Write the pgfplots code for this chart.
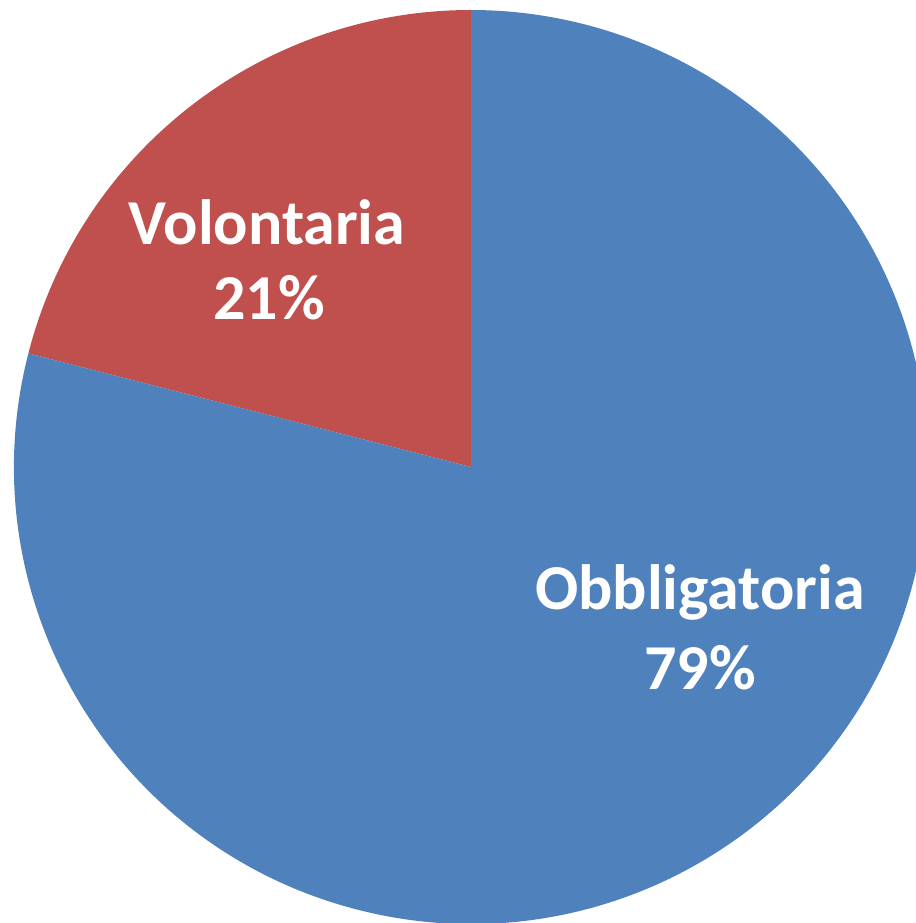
\documentclass[border=0pt]{standalone}
\usepackage{pgfplots}
\usepackage{pgfplotstable}
\usepackage{fontspec}
\setmainfont{Carlito}
\pgfplotsset{compat=1.18}

\definecolor{pieblue}{HTML}{4F81BD}
\definecolor{piered}{HTML}{C0504D}

\pgfplotstableread{
label value
Obbligatoria 79
Volontaria 21
}\piedata

\pgfplotstablegetelem{0}{value}\of\piedata \let\vobb\pgfplotsretval
\pgfplotstablegetelem{1}{value}\of\piedata \let\vvol\pgfplotsretval
% Volontaria starts at 12 o'clock and runs counterclockwise
\pgfmathsetmacro{\avol}{90+3.6*\vvol}
\pgfmathsetmacro{\aobb}{\avol+3.6*\vobb}

\begin{document}
\begin{tikzpicture}
% picture is exactly the axis box (the pie is cut at right and bottom)
\useasboundingbox (0,0) rectangle (229pt,230.75pt);
\begin{axis}[
    x=0.25pt, y=0.25pt,
    xmin=0, xmax=916, ymin=0, ymax=923,
    hide axis, clip=true,
    scale only axis,
    anchor=south west, at={(0,0)},
]
% centre (471,456), radius 457 units = 114.25pt
\fill[piered] (axis cs:471,456) -- ++(90:114.25pt)
    arc[start angle=90, end angle=\avol, radius=114.25pt] -- cycle;
\fill[pieblue] (axis cs:471,456) -- ++(\avol:114.25pt)
    arc[start angle=\avol, end angle=\aobb, radius=114.25pt] -- cycle;

\begin{scope}[every node/.style={text=white, font=\fontsize{16}{19}\selectfont\bfseries, anchor=base, inner sep=0pt}]
\node at (axis cs:267,678) {Volontaria};
\node at (axis cs:269,603) {\vvol\%};
\node at (axis cs:700,313) {Obbligatoria};
\node at (axis cs:700,233) {\vobb\%};
\end{scope}
\end{axis}
\end{tikzpicture}
\end{document}
